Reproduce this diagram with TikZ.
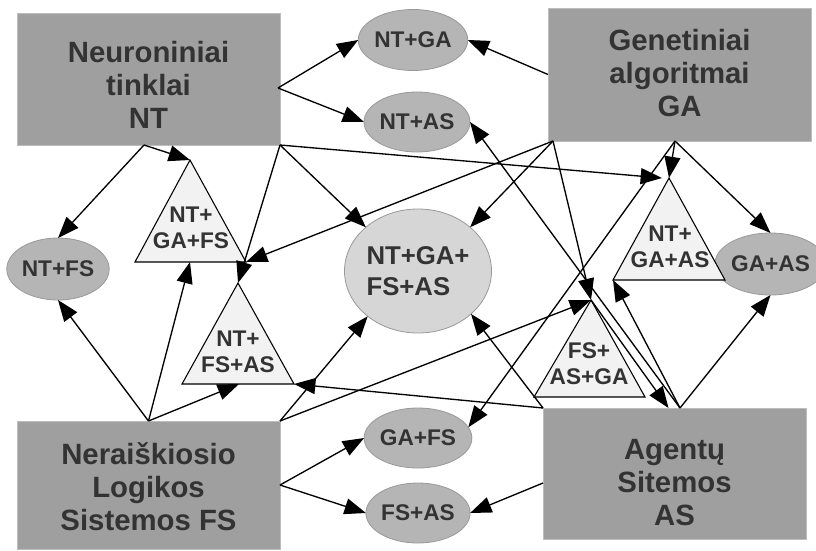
\documentclass[tikz,border=0pt]{standalone}
\usepackage{fontspec}
\setmainfont{Liberation Sans}
\usetikzlibrary{arrows.meta,shapes.geometric,calc}
\definecolor{boxfill}{HTML}{9F9F9F}
\definecolor{boxline}{HTML}{BDBDBD}
\definecolor{ellfill}{HTML}{B5B5B5}
\definecolor{bigfill}{HTML}{D6D6D6}
\definecolor{ellline}{HTML}{999999}
\definecolor{trifill}{HTML}{F2F2F2}
\definecolor{txt}{HTML}{333333}
\tikzset{
  bigbox/.style={rectangle, fill=boxfill, draw=boxline, line width=0.6pt, inner sep=0pt, outer sep=0pt, minimum width=197.25pt},
  boxtext/.style={align=center, text=txt, font=\fontsize{22pt}{24.75pt}\selectfont\bfseries, inner sep=0pt},
  pair/.style={ellipse, fill=ellfill, draw=ellline, line width=0.6pt, inner sep=0pt, outer sep=0pt, minimum width=74pt, minimum height=45pt, text=txt, font=\fontsize{17pt}{19.5pt}\selectfont\bfseries},
  quad/.style={ellipse, fill=bigfill, draw=ellline, line width=0.6pt, inner sep=0pt, outer sep=0pt, text=txt, align=left, font=\fontsize{19.3pt}{23pt}\selectfont\bfseries},
  tri/.style={fill=trifill, draw=black, line width=0.8pt, line join=miter},
  tritext/.style={align=center, text=txt, inner sep=0pt, font=\fontsize{17pt}{19.5pt}\selectfont\bfseries},
  conn/.style={draw=black, line width=1pt, -{Triangle[length=16pt, width=12pt]}},
}
\begin{document}
\begin{tikzpicture}[x=0.75pt, y=-0.75pt]
\useasboundingbox (0,0) rectangle (816,550);
\fill[white] (0,0) rectangle (816,550);

% boxes
\node[bigbox, minimum height=99pt] (NT) at (148.5,79) {};
\node[bigbox, minimum height=99.75pt] (GA) at (679.5,74.5) {};
\node[bigbox, minimum height=96pt] (FS) at (148.5,485) {};
\node[bigbox, minimum height=98.25pt] (AS) at (674.5,473.5) {};
\node[boxtext] (NTt) at (148.5,85) {Neuroniniai\\tinklai\\NT};
\node[boxtext] (GAt) at (679.5,73) {Genetiniai\\algoritmai\\GA};
\node[boxtext] (FSt) at (148.5,487) {Neraiškiosio\\Logikos\\Sistemos FS};
\node[boxtext] (ASt) at (674.5,483) {Agentų\\Sitemos\\AS};

% ellipses
\node[pair, minimum width=73.5pt, minimum height=45.75pt] (NTGA) at (413,40) {NT+GA};
\node[pair, minimum width=74.25pt, minimum height=45pt] (NTAS) at (417,122) {NT+AS};
\node[pair, minimum width=75pt, minimum height=46.5pt] (NTFS) at (58,269) {NT+FS};
\node[pair, minimum width=66.75pt, minimum height=46.5pt] (GAAS) at (770.5,264) {GA+AS};
\node[pair] (GAFS) at (418,438) {GA+FS};
\node[pair] (FSAS) at (418,513) {FS+AS};
\node[quad, minimum width=110.25pt, minimum height=93pt] (Big) at (418,271) {NT+GA+\\FS+AS};

% triangles
\coordinate (T1a) at (190,160); \coordinate (T1l) at (135,262); \coordinate (T1r) at (246,262); \coordinate (T1b) at (190,262);
\coordinate (T2a) at (238,283); \coordinate (T2l) at (182,384); \coordinate (T2r) at (294,384); \coordinate (T2b) at (239,384);
\coordinate (T3a) at (669,178); \coordinate (T3l) at (613,280); \coordinate (T3r) at (725,280); \coordinate (T3n) at (662,178);
\coordinate (T4a) at (591,300); \coordinate (T4l) at (534,397); \coordinate (T4r) at (645,397);
\draw[tri] (T1a) -- (T1l) -- (T1r) -- cycle;
\draw[tri] (T2a) -- (T2l) -- (T2r) -- cycle;
\draw[tri] (T3a) -- (T3l) -- (T3r) -- cycle;
\draw[tri] (T4a) -- (T4l) -- (T4r) -- cycle;
\node[tritext] (T1t) at (191,228) {NT+\\GA+FS};
\node[tritext] (T2t) at (238,352) {NT+\\FS+AS};
\node[tritext] (T3t) at (670,247) {NT+\\GA+AS};
\node[tritext] (T4t) at (589,364) {FS+\\AS+GA};

% ports on boxes
\coordinate (NTr) at ($(NT.east)+(-2,9)$);
\coordinate (NTb) at ($(NT.south)+(-4.5,0)$);
\coordinate (GAbl) at ($(GA.south west)+(5,0)$);
\coordinate (GAb) at ($(GA.south)+(-4.5,0)$);
\coordinate (ASr) at ($(AS.north)+(5.5,0)$);
\coordinate (ASm) at ($(AS.north)+(-6,0)$);
\coordinate (ASl) at ($(AS.west)+(0,9.5)$);

% connectors from NT
\draw[conn] (NTr) -- (NTGA.west);
\draw[conn] (NTr) -- (NTAS.west);
\draw[conn] (NTb) -- (NTFS.north);
\draw[conn] (NTb) -- (T1a);
\draw[conn] (NT.south east) -- (T2a);
\draw[conn] (NT.south east) -- (Big.140);
\draw[conn] (NT.south east) -- (T3n);
% connectors from GA
\draw[conn] (GA.west) -- (NTGA.east);
\draw[conn] (GAbl) -- (T1r);
\draw[conn] (GAbl) -- (Big.40);
\draw[conn] (GAbl) -- (T4a);
\draw[conn] (GAb) -- (T3a);
\draw[conn] (GAb) -- (GAAS.north);
\draw[conn] (GAb) -- (GAFS.12);
% connectors from FS
\draw[conn] (FS.north) -- (NTFS.south);
\draw[conn] (FS.north) -- (T1b);
\draw[conn] (FS.north) -- (T2b);
\draw[conn] (FS.north east) -- (Big.222);
\draw[conn] (FS.north east) -- (T4a);
\draw[conn] (FS.east) -- (GAFS.west);
\draw[conn] (FS.east) -- (FSAS.west);
% connectors from AS
\draw[conn] (AS.north west) -- (T2r);
\draw[conn] (AS.north west) -- (Big.321);
\draw[conn] (ASr) -- (NTAS.east);
\draw[conn] (ASr) -- (T3l);
\draw[conn] (ASr) -- (GAAS.south);
\draw[conn] (ASl) -- (FSAS.east);
\draw[conn] (T4a) -- (ASm);
\end{tikzpicture}
\end{document}
